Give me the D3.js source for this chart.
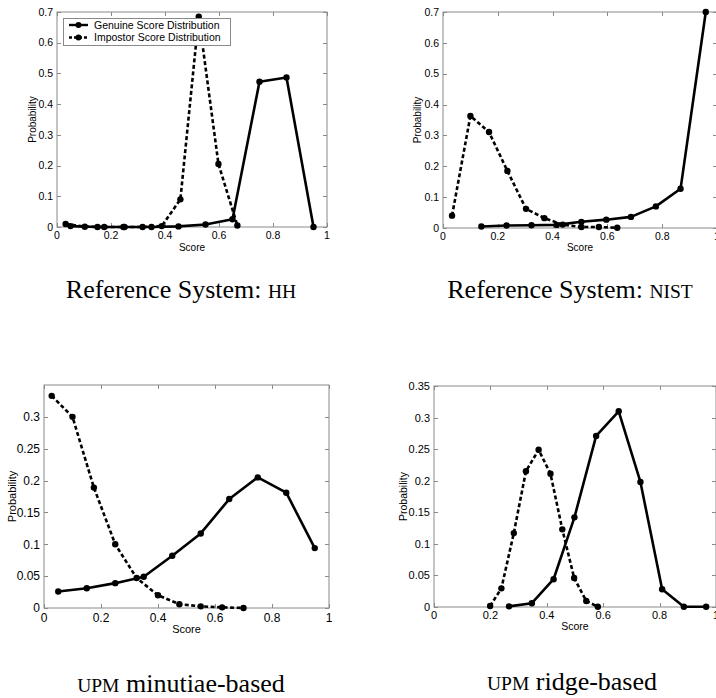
<!DOCTYPE html>
<html><head><meta charset="utf-8">
<script src="https://cdn.jsdelivr.net/npm/d3@7"></script>
<style>body{margin:0;background:#fff}svg{display:block}</style>
</head><body>
<svg id="c" width="716" height="698"></svg>
<script>
// ---- data ----
const xTicks = [0, 0.2, 0.4, 0.6, 0.8, 1];
const yTicksA = [0, 0.1, 0.2, 0.3, 0.4, 0.5, 0.6, 0.7];
const yTicksC = [0, 0.05, 0.1, 0.15, 0.2, 0.25, 0.3];
const yTicksD = [0, 0.05, 0.1, 0.15, 0.2, 0.25, 0.3, 0.35];
const legendLabels = ["Genuine Score Distribution", "Impostor Score Distribution"];
const captions = [["Reference System: ", "HH", ""], ["Reference System: ", "NIST", ""], ["", "UPM", " minutiae-based"], ["", "UPM", " ridge-based"]];

const hhGenX = [0.05, 0.15, 0.25, 0.35, 0.45, 0.55, 0.65, 0.75, 0.85, 0.95];
const hhGenY = [0.003, 0.0, 0.0, 0.0, 0.002, 0.008, 0.025, 0.473, 0.487, 0.0];
const hhImpX = [0.032, 0.103, 0.175, 0.246, 0.317, 0.388, 0.457, 0.525, 0.598, 0.668];
const hhImpY = [0.01, 0.001, 0.0, 0.0, 0.0, 0.003, 0.09, 0.685, 0.205, 0.005];

const nistGenX = [0.14, 0.232, 0.323, 0.415, 0.505, 0.596, 0.686, 0.777, 0.867, 0.959];
const nistGenY = [0.005, 0.008, 0.009, 0.01, 0.02, 0.027, 0.036, 0.07, 0.127, 0.70];
const nistImpX = [0.033, 0.1, 0.168, 0.235, 0.303, 0.37, 0.437, 0.505, 0.569, 0.636];
const nistImpY = [0.040, 0.363, 0.311, 0.185, 0.062, 0.032, 0.011, 0.003, 0.003, 0.001];

const minGenX = [0.05, 0.15, 0.25, 0.35, 0.45, 0.55, 0.65, 0.75, 0.85, 0.95];
const minGenY = [0.026, 0.031, 0.039, 0.049, 0.082, 0.117, 0.171, 0.205, 0.181, 0.094];
const minImpX = [0.027, 0.1, 0.175, 0.25, 0.325, 0.4, 0.475, 0.55, 0.625, 0.7];
const minImpY = [0.333, 0.300, 0.189, 0.100, 0.047, 0.020, 0.006, 0.0026, 0.001, 0.0];

const ridGenX = [0.266, 0.347, 0.424, 0.498, 0.575, 0.655, 0.732, 0.809, 0.886, 0.965];
const ridGenY = [0.001, 0.006, 0.044, 0.142, 0.271, 0.310, 0.198, 0.028, 0.0005, 0.0005];
const ridImpX = [0.199, 0.239, 0.283, 0.326, 0.371, 0.413, 0.455, 0.497, 0.54, 0.581];
const ridImpY = [0.0016, 0.0295, 0.117, 0.215, 0.249, 0.211, 0.123, 0.046, 0.0095, 0.0005];

// ---- layout ----
const panels = [
  {l:57, r:327, t:12, b:227, ymax:0.7, yt:yTicksA, fs:10.5, ls:10, ylabX:32, xlabY:251, xtY:239,
   gx:hhGenX, gy:hhGenY, ix:hhImpX, iy:hhImpY, cap:captions[0], cx:181, cy:298, legend:true},
  {l:443, r:717, t:12, b:228, ymax:0.7, yt:yTicksA, fs:10.5, ls:10, ylabX:417, xlabY:251, xtY:240,
   gx:nistGenX, gy:nistGenY, ix:nistImpX, iy:nistImpY, cap:captions[1], cx:570, cy:298},
  {l:44, r:329, t:385, b:608, ymax:0.35, yt:yTicksC, fs:12, ls:11, ylabX:12, xlabY:633, xtY:622,
   gx:minGenX, gy:minGenY, ix:minImpX, iy:minImpY, cap:captions[2], cx:181, cy:692},
  {l:434, r:716, t:386, b:607, ymax:0.35, yt:yTicksD, fs:11, ls:10.5, ylabX:403, xlabY:630, xtY:619,
   gx:ridGenX, gy:ridGenY, ix:ridImpX, iy:ridImpY, cap:captions[3], cx:572, cy:690}
];

const svg = d3.select("#c");
const fmt = d => d === 0 ? "0" : String(+d.toFixed(2));
const frameCol = "#8a8a8a";

panels.forEach(p => {
  const x = d3.scaleLinear().domain([0, 1]).range([p.l, p.r]);
  const y = d3.scaleLinear().domain([0, p.ymax]).range([p.b, p.t]);
  const g = svg.append("g");
  g.append("rect").attr("x", p.l).attr("y", p.t).attr("width", p.r - p.l).attr("height", p.b - p.t)
    .attr("fill", "#fff").attr("stroke", frameCol).attr("stroke-width", 1);
  const tk = 4;
  // ticks (inward, all four sides)
  xTicks.forEach(v => {
    const xx = Math.round(x(v)) + 0.5;
    g.append("line").attr("x1", xx).attr("x2", xx).attr("y1", p.b).attr("y2", p.b - tk).attr("stroke", frameCol);
    g.append("line").attr("x1", xx).attr("x2", xx).attr("y1", p.t).attr("y2", p.t + tk).attr("stroke", frameCol);
    g.append("text").attr("x", x(v)).attr("y", p.xtY).attr("text-anchor", "middle")
      .attr("font-family", "Liberation Sans, Arial, sans-serif").attr("font-size", p.fs).text(fmt(v));
  });
  p.yt.forEach(v => {
    const yy = Math.round(y(v)) + 0.5;
    g.append("line").attr("x1", p.l).attr("x2", p.l + tk).attr("y1", yy).attr("y2", yy).attr("stroke", frameCol);
    g.append("line").attr("x1", p.r).attr("x2", p.r - tk).attr("y1", yy).attr("y2", yy).attr("stroke", frameCol);
    g.append("text").attr("x", p.l - 4).attr("y", y(v) + p.fs * 0.36).attr("text-anchor", "end")
      .attr("font-family", "Liberation Sans, Arial, sans-serif").attr("font-size", p.fs).text(fmt(v));
  });
  // axis labels
  g.append("text").attr("x", (p.l + p.r) / 2).attr("y", p.xlabY).attr("text-anchor", "middle")
    .attr("font-family", "Liberation Sans, Arial, sans-serif").attr("font-size", p.ls).text("Score");
  g.append("text").attr("transform", `translate(${p.ylabX + p.ls * 0.36},${(p.t + p.b) / 2}) rotate(-90)`)
    .attr("text-anchor", "middle").attr("font-family", "Liberation Sans, Arial, sans-serif")
    .attr("font-size", p.ls).text("Probability");

  const line = d3.line().x(d => x(d[0])).y(d => y(d[1]));
  const series = [
    {xs:p.gx, ys:p.gy, dash:null},
    {xs:p.ix, ys:p.iy, dash:"4,2.5"}
  ];
  series.forEach(s => {
    const pts = s.xs.map((v, i) => [v, s.ys[i]]);
    g.append("path").attr("d", line(pts)).attr("fill", "none").attr("stroke", "#000")
      .attr("stroke-width", 2.6).attr("stroke-linejoin", "round")
      .attr("stroke-dasharray", s.dash);
    g.selectAll(null).data(pts).enter().append("circle")
      .attr("cx", d => x(d[0])).attr("cy", d => y(d[1])).attr("r", 3.2).attr("fill", "#000");
  });

  if (p.legend) {
    const lg = g.append("g");
    lg.append("rect").attr("x", 63.5).attr("y", 18.5).attr("width", 167).attr("height", 27)
      .attr("fill", "#fff").attr("stroke", frameCol);
    legendLabels.forEach((t, i) => {
      const yy = 25 + i * 12.5;
      lg.append("line").attr("x1", 69).attr("x2", 88).attr("y1", yy).attr("y2", yy)
        .attr("stroke", "#000").attr("stroke-width", 2.4).attr("stroke-dasharray", i ? "3,2" : null);
      lg.append("circle").attr("cx", 78.5).attr("cy", yy).attr("r", 3).attr("fill", "#000");
      lg.append("text").attr("x", 94).attr("y", yy + 3.6).attr("font-family", "Liberation Sans, Arial, sans-serif")
        .attr("font-size", 10.5).text(t);
    });
  }

  const cap = svg.append("text").attr("x", p.cx).attr("y", p.cy).attr("text-anchor", "middle")
    .attr("font-family", "Liberation Serif, Times New Roman, serif").attr("font-size", 26).attr("fill", "#000");
  if (p.cap[0]) cap.append("tspan").text(p.cap[0]);
  cap.append("tspan").attr("font-size", 19.5).text(p.cap[1]);
  if (p.cap[2]) cap.append("tspan").text(p.cap[2]);
});
</script>
</body></html>
